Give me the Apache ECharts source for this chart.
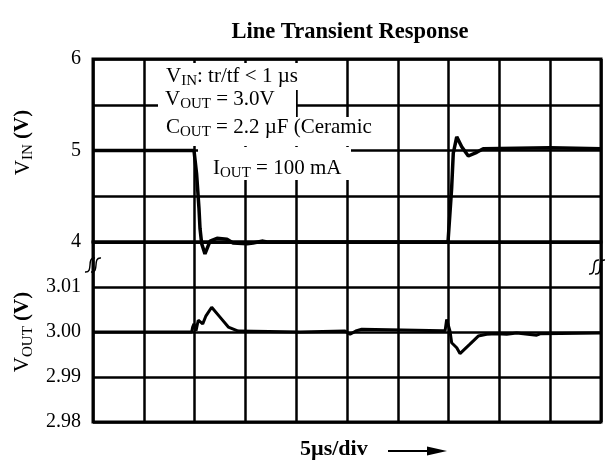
<!DOCTYPE html>
<html>
<head>
<meta charset="utf-8">
<script src="https://cdn.jsdelivr.net/npm/echarts@6/dist/echarts.min.js"></script>
<style>
    html, body { margin: 0; padding: 0; background: #fff; }
    #chart { width: 616px; height: 460px; }
</style>
</head>
<body>
<div id="chart"></div>
<script>
    // 输入电压 VIN (V) 随时间 (µs)
    const vinTime = [0, 9.94, 10.2, 10.43, 10.53, 10.7, 11.02, 11.52, 12.2, 13.19, 13.78, 15.16, 15.75, 16.73, 17.13,
        34.94, 35.3, 35.46, 35.8, 36.29, 36.94, 37.77, 38.41, 44.98, 50];
    const vinValue = [5.0, 5.0, 4.74, 4.37, 4.15, 3.98, 3.87, 4.01, 4.04, 4.03, 3.99, 3.98, 3.99, 4.01, 4.0,
        4.0, 4.59, 4.97, 5.15, 5.04, 4.94, 4.98, 5.02, 5.03, 5.02];
    // 输出电压 VOUT (V)
    const voutTime = [0, 9.71, 9.81, 9.94, 10.14, 10.36, 10.6, 10.8, 11.12, 11.68, 12.5, 13.32, 14.3, 20.37,
        24.8, 25.3, 25.95, 26.45, 34.45, 34.65, 34.81, 34.97, 35.14, 35.3, 35.46, 35.8, 36.12, 37.1, 37.92,
        38.75, 39.73, 40.72, 41.7, 43.67, 44.0, 50];
    const voutValue = [3.0, 3.0, 3.0011, 3.0018, 3.0003, 3.0026, 3.0022, 3.0018, 3.0036, 3.0055, 3.0033, 3.0011,
        3.0002, 3.0, 3.0002, 2.9995, 3.0003, 3.0006, 3.0003, 3.0002, 3.0028, 3.0032, 3.0002, 2.9976, 2.998,
        2.9965, 2.9952, 2.9973, 2.9991, 2.9995, 2.9996, 2.9995, 2.9998, 2.9993, 2.9996, 2.9998];
    const vinTicks = ['4', '5', '6'];
    const voutTicks = ['2.98', '2.99', '3.00', '3.01'];

    const serif = "'Liberation Serif', 'Times New Roman', serif";
    const black = '#000';
    const fs = 21;

    const subRich = {
        n: { fontFamily: serif, fontSize: fs, lineHeight: 26, color: black },
        s: { fontFamily: serif, fontSize: 15, lineHeight: 15, verticalAlign: 'bottom', color: black },
        b: { fontFamily: serif, fontSize: fs, lineHeight: 26, fontWeight: 'bold', color: black },
    };

    const xAxisBase = (gi) => ({
        gridIndex: gi,
        type: 'value',
        min: 0,
        max: 50,
        interval: 5,
        axisLabel: { show: false },
        axisTick: { show: false },
        axisLine: { show: false },
        splitLine: { lineStyle: { color: black, width: 2.5 } },
    });

    const chart = echarts.init(document.getElementById('chart'));

    // 注释文字 (白底)
    const note = (x, y, text) => ({
        type: 'text',
        x: x,
        y: y,
        z: 5,
        style: { text: text, rich: subRich, verticalAlign: 'middle', align: 'left' },
    });
    const whiteBox = (x, y, w, h) => ({
        type: 'rect',
        z: 1,
        shape: { x: x, y: y, width: w, height: h },
        style: { fill: '#fff' },
    });
    // 坐标断开符号
    const breakMark = (x, y) => [0, 6].map((dx) => ({
        type: 'bezierCurve',
        z: 5,
        shape: { x1: x + dx, y1: y + 14, cpx1: x + dx + 9, cpy1: y + 15, cpx2: x + dx + 1, cpy2: y - 1, x2: x + dx + 10, y2: y },
        style: { stroke: black, lineWidth: 1.4, fill: null },
    }));

    const option = {
        animation: false,
        backgroundColor: '#fff',
        title: {
            text: 'Line Transient Response',
            left: 345,
            textAlign: 'center',
            top: 16,
            textStyle: { fontFamily: serif, fontSize: 22.5, fontWeight: 'bold', color: black },
        },
        grid: [
            { left: 93, right: 15, top: 59, height: 183, show: true, borderColor: black, borderWidth: 3 },
            { left: 93, right: 15, top: 242, height: 180, show: true, borderColor: black, borderWidth: 3 },
        ],
        xAxis: [xAxisBase(0), xAxisBase(1)],
        yAxis: [
            {
                gridIndex: 0,
                type: 'value',
                min: 4,
                max: 6,
                interval: 0.5,
                axisLine: { show: false },
                axisTick: { show: false },
                axisLabel: {
                    margin: 12,
                    fontFamily: serif,
                    fontSize: 20,
                    color: black,
                    formatter: (v) => (vinTicks.includes(String(v)) ? String(v) : ''),
                },
                splitLine: { lineStyle: { color: black, width: 2.5 } },
                name: '{n|V}{s|IN}{b| (V)}',
                nameLocation: 'middle',
                nameRotate: 90,
                nameGap: 57,
                nameTextStyle: { rich: subRich, padding: [0, 0, 0, 16] },
            },
            {
                gridIndex: 1,
                type: 'value',
                min: 2.98,
                max: 3.02,
                interval: 0.01,
                axisLine: { show: false },
                axisTick: { show: false },
                axisLabel: {
                    margin: 12,
                    fontFamily: serif,
                    fontSize: 20,
                    color: black,
                    formatter: (v) => {
                        let t = v.toFixed(2);
                        return voutTicks.includes(t) ? t : '';
                    },
                },
                splitLine: { lineStyle: { color: black, width: 2.5 } },
                name: '{n|V}{s|OUT}{b| (V)}',
                nameLocation: 'middle',
                nameRotate: 90,
                nameGap: 57,
                nameTextStyle: { rich: subRich },
            },
        ],
        graphic: [
            whiteBox(162, 63, 137, 27),
            whiteBox(158, 89, 138, 29),
            whiteBox(158, 117, 216, 29),
            whiteBox(198, 147, 153, 33),
            note(166, 76, '{n|V}{s|IN}{n|: tr/tf < 1 µs}'),
            note(165, 99, '{n|V}{s|OUT}{n| = 3.0V}'),
            note(166, 127, '{n|C}{s|OUT}{n| = 2.2 µF (Ceramic}'),
            note(213, 168, '{n|I}{s|OUT}{n| = 100 mA}'),
            ...breakMark(85, 258),
            ...breakMark(589, 260),
            {
                type: 'text',
                x: 300,
                y: 449,
                style: { text: '5µs/div', fontFamily: serif, fontSize: 22, fontWeight: 'bold', fill: black, verticalAlign: 'middle' },
            },
            {
                type: 'line',
                shape: { x1: 388, y1: 451, x2: 432, y2: 451 },
                style: { stroke: black, lineWidth: 2 },
            },
            {
                type: 'polygon',
                shape: { points: [[427, 446.5], [447, 451], [427, 455.5]] },
                style: { fill: black },
            },
        ],
        series: [
            {
                name: 'VIN',
                type: 'line',
                xAxisIndex: 0,
                yAxisIndex: 0,
                data: vinTime.map((t, i) => [t, vinValue[i]]),
                symbol: 'none',
                clip: false,
                z: 3,
                lineStyle: { color: black, width: 3.5 },
            },
            {
                name: 'VOUT',
                type: 'line',
                xAxisIndex: 1,
                yAxisIndex: 1,
                data: voutTime.map((t, i) => [t, voutValue[i]]),
                symbol: 'none',
                clip: false,
                z: 3,
                lineStyle: { color: black, width: 3 },
            },
        ],
    };

    chart.setOption(option);
</script>
</body>
</html>
